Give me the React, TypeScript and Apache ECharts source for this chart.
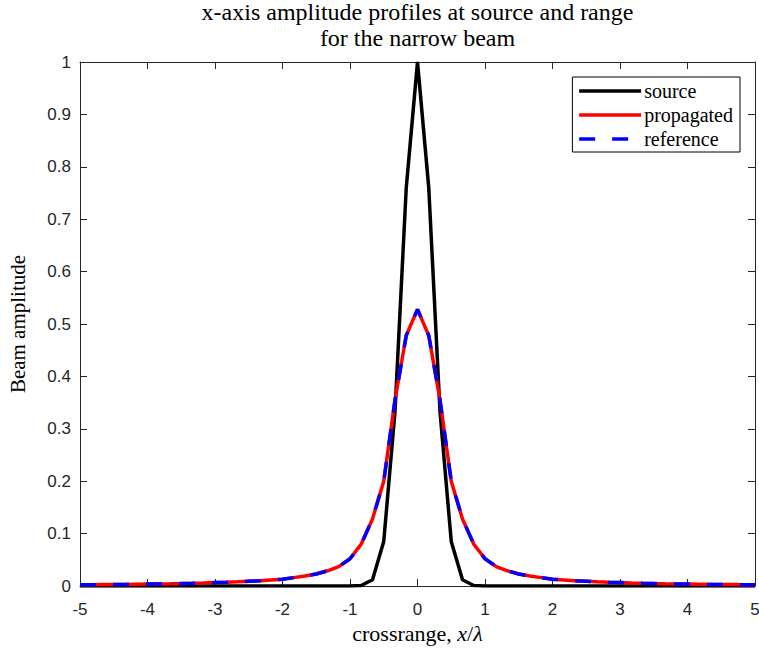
import React, { useEffect, useRef } from "react";
import * as echarts from "echarts";

const titleLines = ["x-axis amplitude profiles at source and range", "for the narrow beam"];
const yAxisName = "Beam amplitude";

// crossrange grid, x/lambda from -5 to 5 in steps of 1/6 (61 samples)
const xs: number[] = Array.from({ length: 61 }, (_, i) => -5 + i / 6);

const sourceValues: number[] = [
  0, 0, 0, 0, 0, 0, 0, 0, 0, 0,
  0, 0, 0, 0, 0, 0, 0, 0, 0, 0,
  0, 0, 0, 0, 0, 0.001, 0.012, 0.085, 0.333, 0.76,
  1,
  0.76, 0.333, 0.085, 0.012, 0.001, 0, 0, 0, 0, 0,
  0, 0, 0, 0, 0, 0, 0, 0, 0, 0,
  0, 0, 0, 0, 0, 0, 0, 0, 0, 0,
];

const propagatedValues: number[] = [
  0.0023, 0.0025, 0.0027, 0.0029, 0.0031, 0.0034, 0.0037, 0.004, 0.0043, 0.0047,
  0.0052, 0.0058, 0.0065, 0.0072, 0.008, 0.009, 0.01, 0.0115, 0.013, 0.016,
  0.019, 0.023, 0.029, 0.037, 0.052, 0.08, 0.128, 0.2, 0.355, 0.478,
  0.528,
  0.478, 0.355, 0.2, 0.128, 0.08, 0.052, 0.037, 0.029, 0.023, 0.019,
  0.016, 0.013, 0.0115, 0.01, 0.009, 0.008, 0.0072, 0.0065, 0.0058, 0.0052,
  0.0047, 0.0043, 0.004, 0.0037, 0.0034, 0.0031, 0.0029, 0.0027, 0.0025, 0.0023,
];

const referenceValues: number[] = [
  0.0023, 0.0025, 0.0027, 0.0029, 0.0031, 0.0034, 0.0037, 0.004, 0.0043, 0.0047,
  0.0052, 0.0058, 0.0065, 0.0072, 0.008, 0.009, 0.01, 0.0115, 0.013, 0.016,
  0.019, 0.023, 0.029, 0.037, 0.052, 0.08, 0.128, 0.2, 0.355, 0.478,
  0.528,
  0.478, 0.355, 0.2, 0.128, 0.08, 0.052, 0.037, 0.029, 0.023, 0.019,
  0.016, 0.013, 0.0115, 0.01, 0.009, 0.008, 0.0072, 0.0065, 0.0058, 0.0052,
  0.0047, 0.0043, 0.004, 0.0037, 0.0034, 0.0031, 0.0029, 0.0027, 0.0025, 0.0023,
];

const AX = "#262626";
const SERIF = "Liberation Serif";
const SANS = "Liberation Sans";

export default function App() {
  const ref = useRef<HTMLDivElement>(null);
  useEffect(() => {
    if (!ref.current) return;
    const chart = echarts.init(ref.current, undefined, { renderer: "svg" });
    const pair = (vals: number[]) => xs.map((x, i) => [x, vals[i]]);
    const baseAxis = {
      axisLine: { show: true, onZero: false, lineStyle: { color: AX, width: 1 } },
      axisTick: { show: true, inside: true, length: 7, lineStyle: { color: AX, width: 1 } },
      splitLine: { show: false },
    };
    chart.setOption({
      animation: false,
      backgroundColor: "#ffffff",
      grid: {
        left: 80,
        top: 62,
        width: 675,
        height: 524,
        containLabel: false,
        outerBoundsMode: "none",
      },
      graphic: [
        {
          type: "text",
          x: 417.5,
          y: 12,
          style: {
            text: titleLines[0],
            textAlign: "center",
            textVerticalAlign: "middle",
            fontFamily: SERIF,
            fontSize: 24,
            fill: "#000",
          },
        },
        {
          type: "text",
          x: 417.5,
          y: 38,
          style: {
            text: titleLines[1],
            textAlign: "center",
            textVerticalAlign: "middle",
            fontFamily: SERIF,
            fontSize: 24,
            fill: "#000",
          },
        },
      ],
      legend: {
        orient: "vertical",
        right: 19,
        top: 77,
        padding: [4, 7, 3, 5],
        itemGap: 4,
        itemWidth: 62,
        itemHeight: 14,
        backgroundColor: "#ffffff",
        borderColor: "#000",
        borderWidth: 1,
        borderRadius: 0,
        itemStyle: { opacity: 0, borderWidth: 0 },
        lineStyle: { width: 3.5 },
        textStyle: { fontFamily: SERIF, fontSize: 20, lineHeight: 18, color: "#000", padding: [0, 0, 0, -2] },
        data: ["source", "propagated", "reference"],
      },
      xAxis: [
        {
          ...baseAxis,
          type: "value",
          position: "bottom",
          min: -5,
          max: 5,
          interval: 1,
          axisLabel: { show: true, color: AX, fontFamily: SANS, fontSize: 17, margin: 15 },
          name: "crossrange, {i|x}/{i|λ}",
          nameLocation: "middle",
          nameGap: 36,
          nameTextStyle: {
            fontFamily: SERIF,
            fontSize: 22,
            color: "#000",
            verticalAlign: "top",
            rich: { i: { fontFamily: SERIF, fontSize: 22, fontStyle: "italic", color: "#000" } },
          },
        },
        {
          ...baseAxis,
          type: "value",
          position: "top",
          min: -5,
          max: 5,
          interval: 1,
          axisLabel: { show: false },
        },
      ],
      yAxis: [
        {
          ...baseAxis,
          type: "value",
          position: "left",
          min: 0,
          max: 1,
          interval: 0.1,
          axisLabel: { show: true, color: AX, fontFamily: SANS, fontSize: 17, margin: 9 },
          name: yAxisName,
          nameLocation: "middle",
          nameGap: 52,
          nameTextStyle: { fontFamily: SERIF, fontSize: 21, color: "#000" },
        },
        {
          ...baseAxis,
          type: "value",
          position: "right",
          min: 0,
          max: 1,
          interval: 0.1,
          axisLabel: { show: false },
        },
      ],
      series: [
        {
          name: "source",
          type: "line",
          xAxisIndex: 0,
          yAxisIndex: 0,
          data: pair(sourceValues),
          symbol: "none",
          lineStyle: { color: "#000000", width: 3.5 },
          itemStyle: { color: "#000000" },
          z: 2,
        },
        {
          name: "propagated",
          type: "line",
          xAxisIndex: 0,
          yAxisIndex: 0,
          data: pair(propagatedValues),
          symbol: "none",
          lineStyle: { color: "#ff0000", width: 3.5 },
          itemStyle: { color: "#ff0000" },
          z: 3,
        },
        {
          name: "reference",
          type: "line",
          xAxisIndex: 0,
          yAxisIndex: 0,
          data: pair(referenceValues),
          symbol: "none",
          lineStyle: { color: "#0000ff", width: 3.5, type: [16, 17] },
          itemStyle: { color: "#0000ff" },
          z: 4,
        },
      ],
    });
    return () => chart.dispose();
  }, []);
  return (
    <div
      ref={ref}
      style={{ position: "fixed", left: 0, top: 0, width: 759, height: 651, background: "#fff" }}
    />
  );
}
